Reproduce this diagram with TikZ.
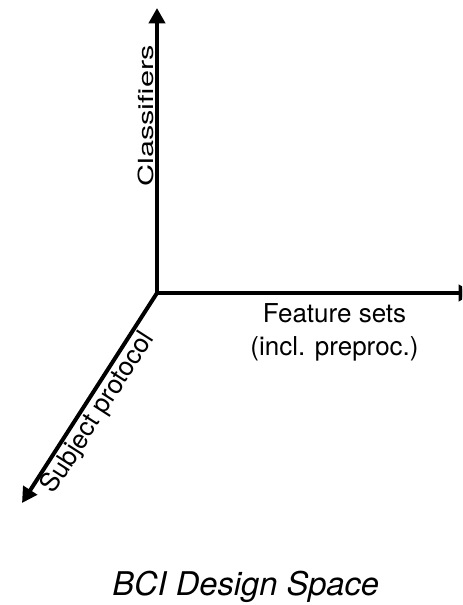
\documentclass[tikz,border=0pt]{standalone}
\usepackage{fontspec}
\setmainfont{TeX Gyre Heros}
\usetikzlibrary{arrows.meta}
\tikzset{
  axis/.style={line width=3pt, -{Triangle[length=11.5pt,width=12pt]}},
  axislabel/.style={inner sep=0pt, font=\fontsize{19.5}{24}\selectfont},
  titlelabel/.style={inner sep=0pt, font=\fontsize{24.5}{29}\selectfont\itshape}
}
\begin{document}
\begin{tikzpicture}[x=0.75pt,y=-0.75pt]
\useasboundingbox (0,0) rectangle (462,605);
\clip (0,0) rectangle (462,605);
\coordinate (o) at (157,293);
\coordinate (ytip) at (157,8);
\coordinate (xtip) at (474,293);
\coordinate (ztip) at (22,503);
\draw[axis] (o) -- (ytip);
\draw[axis] (o) -- (xtip);
\draw[axis] (o) -- (ztip);
\node[axislabel, rotate=90] (cls) at (145.5,116) {\scalebox{1.18}[0.8]{Classifiers}};
\node[axislabel, anchor=base] (feat1) at (334.5,322) {Feature sets};
\node[axislabel, anchor=base] (feat2) at (334.5,355) {(incl. preproc.)};
\node[axislabel, rotate=57.3] (subj) at (98.3,413) {Subject protocol};
\node[titlelabel, anchor=base west] (title) at (112,595) {BCI Design Space};
\end{tikzpicture}
\end{document}
